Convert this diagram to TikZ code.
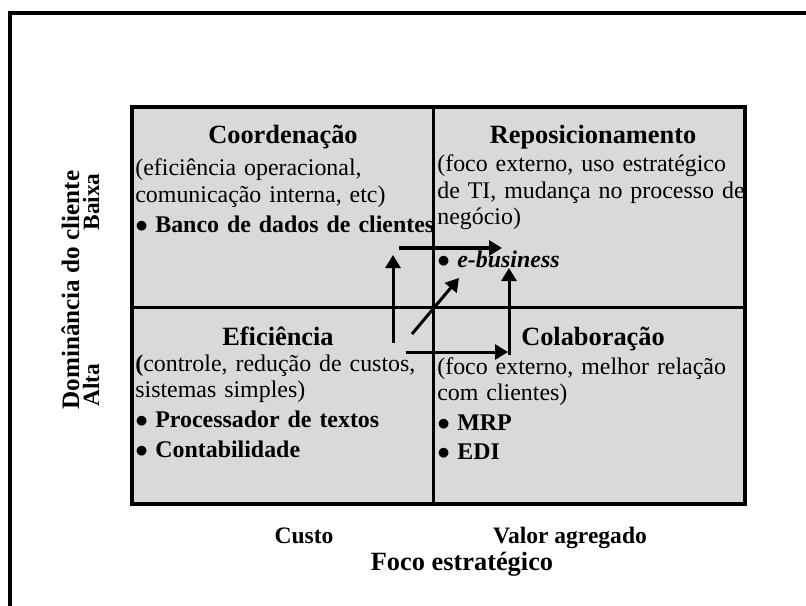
\documentclass[tikz,border=0pt]{standalone}
\usepackage{fontspec}
\setmainfont{Liberation Serif}
\usetikzlibrary{arrows.meta}

\newcommand{\dotmark}{\makebox[4mm][l]{$\bullet$}}
\newcommand{\itembf}[1]{\dotmark\textbf{#1}}

\begin{document}
\begin{tikzpicture}[x=0.2mm, y=0.2mm,
		heading/.style={anchor=base, inner sep=0pt, font=\fontsize{15}{17}\selectfont\bfseries},
		body/.style={anchor=base west, align=left, text width=62mm, inner sep=0pt, font=\fontsize{13.6}{14.8}\selectfont},
		axislabel/.style={anchor=base, inner sep=0pt, font=\fontsize{13.4}{15}\selectfont\bfseries},
		trend/.style={line width=0.6mm, -{Triangle[length=2.6mm,width=3mm]}}]
		
		\useasboundingbox (0,0) rectangle (806,605);
		
		% outer frame (cut by the page on the right and bottom)
		\draw [line width=0.8mm] (10,-10) -- (10,592) -- (820,592);
		
		% quadrants
		\draw [line width=0.8mm, fill=black!15] (132,101) rectangle (745,498);
		\draw [line width=0.6mm] (433,101) -- (433,498);	% vertical split
		\draw [line width=0.6mm] (132,298) -- (745,298);	% horizontal split
		
		% top left
		\node [heading] (coord) at (283,462) {Coordenação};
		\node [body] (coordtxt) at (135,429) {(eficiência operacional,\\comunicação interna, etc)\\[2.3pt]\itembf{Banco de dados de clientes}};
		
		% top right
		\node [heading] (repos) at (593,462) {Reposicionamento};
		\node [body] (repostxt) at (437,433) {(foco externo, uso estratégico\\de TI, mudança no processo de\\negócio)\\[10.2pt]\dotmark\textbf{\textit{e-business}}};
		
		% bottom left
		\node [heading] (efic) at (278,260) {Eficiência};
		\node [body] (efictxt) at (135,234) {\textbf{(}controle, redução de custos,\\sistemas simples)\\[2.8pt]\itembf{Processador de textos}\\[2.3pt]\itembf{Contabilidade}};
		
		% bottom right
		\node [heading] (colab) at (593,260) {Colaboração};
		\node [body] (colabtxt) at (437,231) {(foco externo, melhor relação\\com clientes)\\[2.8pt]\itembf{MRP}\\[1.7pt]\itembf{EDI}};
		
		% axis labels
		\node [axislabel] (custo) at (304,62) {Custo};
		\node [axislabel] (valor) at (570,62) {Valor agregado};
		\node [heading] (foco) at (462,35) {Foco estratégico};
		\node [heading, rotate=90, font=\fontsize{14.3}{16}\selectfont\bfseries] (domin) at (79,315) {Dominância do cliente};
		\node [axislabel, rotate=90, font=\fontsize{13.3}{15}\selectfont\bfseries] (baixa) at (99,403) {Baixa};
		\node [axislabel, rotate=90, font=\fontsize{13.3}{15}\selectfont\bfseries] (alta) at (99,220) {Alta};
		
		% arrow ends
		\coordinate (upLa) at (393,262);	\coordinate (upLb) at (393,350);
		\coordinate (topa) at (399,357);	\coordinate (topb) at (502,357);
		\coordinate (diaga) at (412,271);	\coordinate (diagb) at (459,327);
		\coordinate (bota) at (406,253);	\coordinate (botb) at (508,253);
		\coordinate (upRa) at (509,250);	\coordinate (upRb) at (509,337);
		
		% arrows
		\draw [trend] (upLa) -- (upLb);
		\draw [trend] (topa) -- (topb);
		\draw [trend] (diaga) -- (diagb);
		\draw [trend] (bota) -- (botb);
		\draw [trend] (upRa) -- (upRb);
\end{tikzpicture}
\end{document}
